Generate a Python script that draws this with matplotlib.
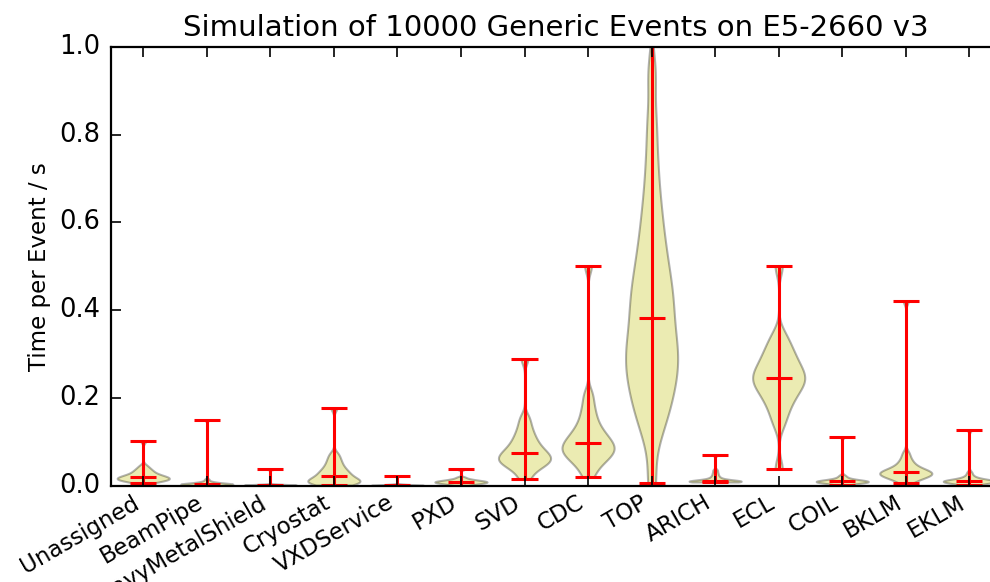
import numpy as np
import matplotlib
matplotlib.use("Agg")
import matplotlib.pyplot as plt

# Detector components and time per event samples (s)
detectors = ['Unassigned', 'BeamPipe', 'HeavyMetalShield', 'Cryostat', 'VXDService',
             'PXD', 'SVD', 'CDC', 'TOP', 'ARICH', 'ECL', 'COIL', 'BKLM', 'EKLM']

unassigned = [0.006, 0.009, 0.011, 0.012, 0.013, 0.014, 0.015, 0.016, 0.017, 0.018, 0.020,
              0.021, 0.022, 0.024, 0.026, 0.029, 0.032, 0.035, 0.039, 0.045, 0.102]
beampipe = [0.000, 0.001, 0.001, 0.002, 0.002, 0.002, 0.003, 0.003, 0.003, 0.003, 0.004,
            0.004, 0.004, 0.005, 0.005, 0.006, 0.007, 0.008, 0.010, 0.014, 0.149]
heavymetal = [0.000, 0.000, 0.001, 0.001, 0.001, 0.001, 0.001, 0.002, 0.002, 0.003, 0.037]
cryostat = [0.001, 0.003, 0.005, 0.006, 0.008, 0.009, 0.011, 0.013, 0.015, 0.018, 0.022,
            0.025, 0.028, 0.032, 0.036, 0.041, 0.047, 0.054, 0.062, 0.072, 0.177]
vxdservice = [0.000, 0.000, 0.000, 0.000, 0.001, 0.001, 0.001, 0.001, 0.002, 0.003, 0.022]
pxd = [0.000, 0.002, 0.003, 0.004, 0.005, 0.006, 0.006, 0.007, 0.007, 0.008, 0.009,
       0.009, 0.010, 0.010, 0.011, 0.012, 0.013, 0.014, 0.016, 0.019, 0.037]
svd = [0.014, 0.030, 0.040, 0.046, 0.050, 0.054, 0.058, 0.061, 0.064, 0.068, 0.073,
       0.077, 0.082, 0.088, 0.095, 0.103, 0.112, 0.123, 0.137, 0.155, 0.289]
cdc = [0.020, 0.040, 0.052, 0.060, 0.066, 0.072, 0.077, 0.082, 0.086, 0.091, 0.096,
       0.102, 0.108, 0.115, 0.123, 0.133, 0.146, 0.162, 0.182, 0.208, 0.501]
top = [0.006, 0.110, 0.145, 0.170, 0.192, 0.212, 0.230, 0.247, 0.263, 0.279, 0.294,
       0.309, 0.324, 0.339, 0.360, 0.383, 0.400, 0.418, 0.437, 0.457, 0.479,
       0.503, 0.530, 0.560, 0.595, 0.635, 0.685, 0.750, 0.830, 0.940, 1.150]
arich = [0.008, 0.008, 0.008, 0.009, 0.009, 0.009, 0.009, 0.010, 0.010, 0.010, 0.010,
         0.011, 0.012, 0.013, 0.015, 0.017, 0.020, 0.024, 0.029, 0.035, 0.070]
ecl = [0.037, 0.140, 0.165, 0.183, 0.197, 0.208, 0.218, 0.227, 0.234, 0.240, 0.246,
       0.253, 0.260, 0.268, 0.277, 0.287, 0.298, 0.310, 0.325, 0.345, 0.501]
coil = [0.002, 0.004, 0.005, 0.006, 0.007, 0.007, 0.008, 0.008, 0.009, 0.009, 0.010,
        0.010, 0.011, 0.011, 0.012, 0.013, 0.014, 0.016, 0.019, 0.023, 0.111]
bklm = [0.006, 0.012, 0.016, 0.019, 0.021, 0.023, 0.025, 0.026, 0.027, 0.029, 0.030,
        0.032, 0.034, 0.036, 0.039, 0.043, 0.048, 0.054, 0.062, 0.074, 0.421]
eklm = [0.001, 0.003, 0.005, 0.006, 0.007, 0.008, 0.008, 0.009, 0.009, 0.010, 0.010,
        0.011, 0.011, 0.012, 0.013, 0.014, 0.016, 0.019, 0.023, 0.030, 0.127]

times = [unassigned, beampipe, heavymetal, cryostat, vxdservice, pxd, svd, cdc,
         top, arich, ecl, coil, bklm, eklm]

# KDE bandwidth per component (s)
bandwidth = [0.005, 0.002, 0.001, 0.008, 0.001, 0.002, 0.013, 0.017,
             0.05, 0.003, 0.022, 0.003, 0.008, 0.004]


def fixed_bw(bw):
    # turn an absolute bandwidth into the factor matplotlib's KDE expects
    return lambda kde: bw / np.std(kde.dataset, ddof=1)


def main():
    plt.style.use('classic')
    plt.rcParams['font.family'] = ['DejaVu Sans']

    fig = plt.figure(figsize=(9.9, 5.82), dpi=100, facecolor='white')
    ax = fig.add_axes([0.1126, 0.1658, 0.8986, 0.7536])

    for i, (data, bw) in enumerate(zip(times, bandwidth)):
        parts = ax.violinplot([data], positions=[i + 1], widths=0.82,
                              showmedians=True, bw_method=fixed_bw(bw), points=300)
        for body in parts['bodies']:
            body.set_facecolor('y')
            body.set_edgecolor('black')
            body.set_linewidth(1.5)
            body.set_alpha(0.3)
        for key in ['cmaxes', 'cmins', 'cbars', 'cmedians']:
            parts[key].set_color('r')
            parts[key].set_linewidth(2.2)

    ax.set_xlim(0.5, len(detectors) + 0.5)
    ax.set_ylim(0.0, 1.0)
    ax.set_xticks(np.arange(1, len(detectors) + 1))
    ax.set_xticklabels(detectors, rotation=30, ha='right', fontsize=16.5)
    ax.set_yticks(np.arange(0, 1.01, 0.2))
    ax.set_yticklabels(['%.1f' % v for v in np.arange(0, 1.01, 0.2)], fontsize=18.5)
    ax.tick_params(which='major', length=7, width=1.2, direction='in')
    ax.tick_params(axis='y', pad=8)
    for spine in ax.spines.values():
        spine.set_linewidth(1.6)

    ax.set_ylabel('Time per Event / s', fontsize=16.5, labelpad=6)
    ax.set_title('Simulation of 10000 Generic Events on E5-2660 v3', fontsize=21, y=1.01)

    fig.savefig('out.png', dpi=100, facecolor='white')


if __name__ == "__main__":
    main()
